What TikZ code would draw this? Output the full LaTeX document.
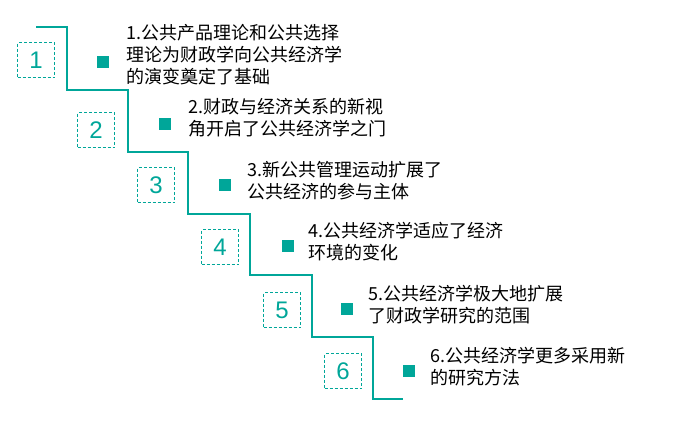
\documentclass[tikz,border=0pt]{standalone}
\usepackage{fontspec}
\setmainfont{Noto Sans CJK SC}
\newfontfamily\numfont{Liberation Sans}
\usetikzlibrary{positioning}
\definecolor{stairgreen}{RGB}{0,166,153}
\tikzset{
  numbox/.style={draw=stairgreen, dash pattern=on 3pt off 2pt, line width=0.8pt,
    minimum width=37pt, minimum height=35pt, inner sep=0pt,
    text=stairgreen, font=\numfont\fontsize{24}{24}\selectfont},
  mark square/.style={fill=stairgreen, minimum size=12pt, inner sep=0pt},
  item/.style={anchor=west, align=left, inner sep=0pt,
    font=\fontsize{18}{22}\selectfont}
}
\begin{document}
\begin{tikzpicture}[x=1pt,y=-1pt]
\useasboundingbox (0,0) rectangle (682,421);
% staircase
\draw[stairgreen, line width=1.2pt] (36,27) -- (67,27) -- (67,90) -- (128,90)
  -- (128,152) -- (188,152) -- (188,214) -- (250,214) -- (250,275) -- (312,275)
  -- (312,337) -- (373,337) -- (373,399) -- (403,399);
% numbered boxes
\node[numbox] (n1) at (36,60) {1};
\node[numbox] (n2) at (96,130) {2};
\node[numbox] (n3) at (156,185) {3};
\node[numbox] (n4) at (220,247) {4};
\node[numbox] (n5) at (282,310) {5};
\node[numbox] (n6) at (343,371) {6};
% bullets
\node[mark square] (b1) at (103,62) {};
\node[mark square] (b2) at (165,124) {};
\node[mark square] (b3) at (225,185) {};
\node[mark square] (b4) at (288,246) {};
\node[mark square] (b5) at (347,309) {};
\node[mark square] (b6) at (409,371) {};
% texts
\node[item] (t1) at (126,55) {1.公共产品理论和公共选择\\理论为财政学向公共经济学\\的演变奠定了基础};
\node[item] (t2) at (188,118) {2.财政与经济关系的新视\\角开启了公共经济学之门};
\node[item] (t3) at (247,181) {3.新公共管理运动扩展了\\公共经济的参与主体};
\node[item] (t4) at (308,242) {4.公共经济学适应了经济\\环境的变化};
\node[item] (t5) at (368,305) {5.公共经济学极大地扩展\\了财政学研究的范围};
\node[item] (t6) at (430,367) {6.公共经济学更多采用新\\的研究方法};
\end{tikzpicture}
\end{document}
